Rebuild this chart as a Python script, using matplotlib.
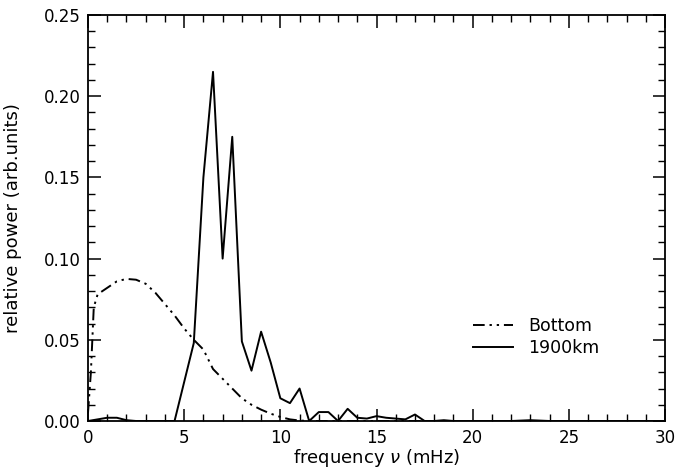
import matplotlib
matplotlib.use("Agg")
import matplotlib.pyplot as plt
from matplotlib.ticker import MultipleLocator

plt.rcParams['font.family'] = ['DejaVu Sans']
plt.rcParams['mathtext.fontset'] = 'dejavusans'

# 1900km series (0.5 mHz sampling)
freq_1900 = [0.0, 0.5, 1.0, 1.5, 2.0, 2.5, 3.0, 3.5, 4.0, 4.5, 5.0, 5.5, 6.0, 6.5, 7.0,
             7.5, 8.0, 8.5, 9.0, 9.5, 10.0, 10.5, 11.0, 11.5, 12.0, 12.5, 13.0, 13.5,
             14.0, 14.5, 15.0, 15.5, 16.0, 16.5, 17.0, 17.5, 18.0, 18.5, 19.0, 20.0,
             21.0, 22.0, 23.0, 24.0, 25.0, 26.0, 27.0, 28.0, 29.0, 30.0]
power_1900 = [0.0, 0.001, 0.002, 0.002, 0.0005, 0.0, 0.0, 0.0, 0.0, 0.0, 0.024, 0.048,
              0.150, 0.215, 0.100, 0.175, 0.049, 0.031, 0.055, 0.036, 0.014, 0.011,
              0.020, 0.0, 0.0055, 0.0055, 0.0, 0.0075, 0.002, 0.0015, 0.003, 0.002,
              0.0015, 0.001, 0.004, 0.0, 0.0, 0.0005, 0.0, 0.0, 0.0, 0.0, 0.0005, 0.0,
              0.0, 0.0, 0.0, 0.0, 0.0, 0.0]

# Bottom series
freq_bottom = [0.0, 0.15, 0.3, 0.5, 1.0, 1.5, 2.0, 2.5, 3.0, 3.5, 4.0, 4.5, 5.0, 5.5, 6.0,
               6.5, 7.0, 7.5, 8.0, 8.5, 9.0, 9.5, 10.0, 10.5, 11.0, 11.5, 12.0, 15.0,
               20.0, 25.0, 30.0]
power_bottom = [0.005, 0.030, 0.070, 0.078, 0.082, 0.086, 0.0875, 0.087, 0.0845, 0.079,
                0.072, 0.065, 0.057, 0.050, 0.044, 0.032, 0.026, 0.020, 0.014, 0.010,
                0.007, 0.0045, 0.0025, 0.001, 0.0003, 0.0, 0.0, 0.0, 0.0, 0.0, 0.0]

x_ticks = [0, 5, 10, 15, 20, 25, 30]
y_ticks = [0.00, 0.05, 0.10, 0.15, 0.20, 0.25]

fig = plt.figure(figsize=(6.75, 4.70), dpi=100)
ax = fig.add_axes([88 / 675, 1 - 421 / 470, 577 / 675, 406 / 470])

ax.plot(freq_bottom, power_bottom, color='black', lw=1.4,
        linestyle=(0, (6, 2.5, 1.2, 2.5, 1.2, 2.5)), label='Bottom')
ax.plot(freq_1900, power_1900, color='black', lw=1.4, label='1900km')

ax.set_xlim(0, 30)
ax.set_ylim(0, 0.25)
ax.set_xticks(x_ticks)
ax.set_yticks(y_ticks)
ax.set_yticklabels([f"{v:.2f}" for v in y_ticks])
ax.xaxis.set_minor_locator(MultipleLocator(1))
ax.yaxis.set_minor_locator(MultipleLocator(0.01))
ax.tick_params(which='both', direction='in', top=True, right=True, labelsize=12)
ax.tick_params(which='major', length=9, width=1.1)
ax.tick_params(which='minor', length=5, width=1.0)
ax.tick_params(axis='x', pad=6)
ax.tick_params(axis='y', pad=5)
for s in ax.spines.values():
    s.set_linewidth(1.3)

ax.set_xlabel(r'frequency $\nu$ (mHz)', fontsize=13, labelpad=0)
ax.set_ylabel('relative power (arb.units)', fontsize=13)
ax.yaxis.set_label_coords(-0.115, 0.5)

ax.legend(loc='center left', bbox_to_anchor=((473 - 88) / 577, 0.207), frameon=False,
          fontsize=12.5, handlelength=2.3, handletextpad=0.9, labelspacing=0.25,
          borderpad=0, borderaxespad=0)

fig.savefig('out.png', dpi=100)
